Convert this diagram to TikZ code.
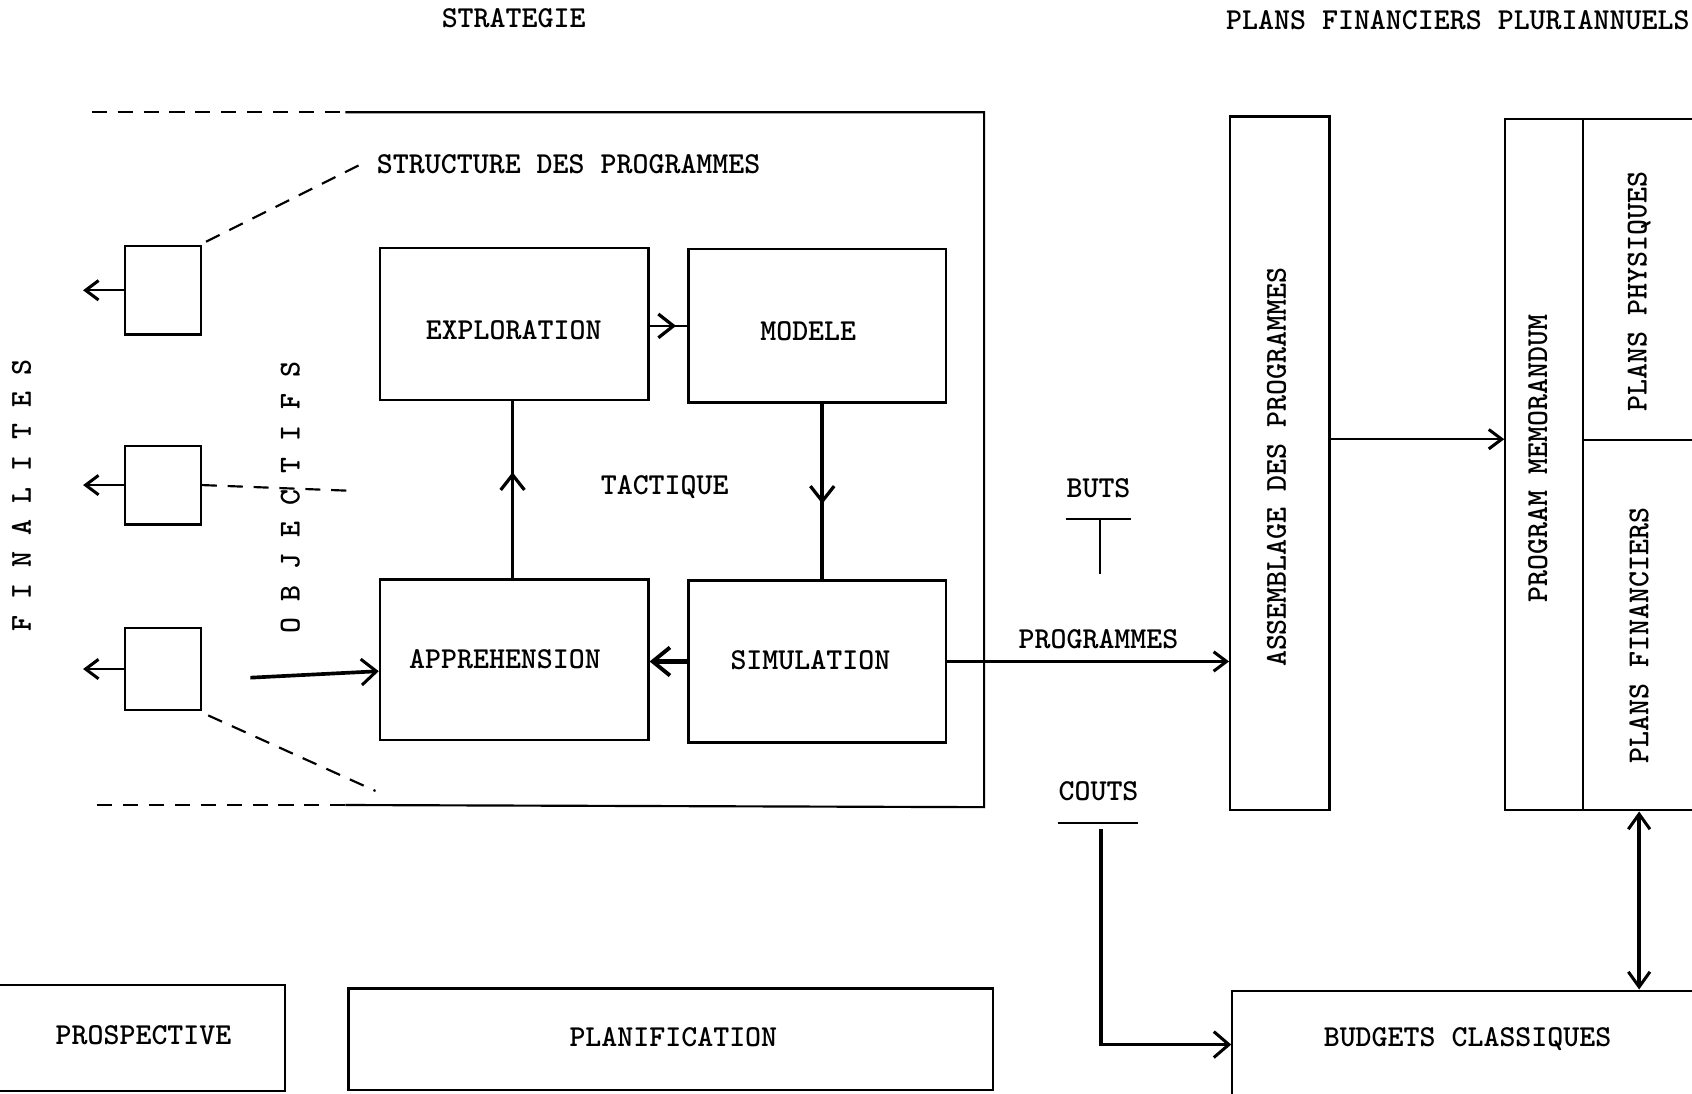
\documentclass[tikz,border=0pt]{standalone}
\usepackage{fontspec}
\usetikzlibrary{arrows.meta,decorations.markings,calc}
\begin{document}
\begin{tikzpicture}[x=0.5pt,y=-0.5pt,
  font=\ttfamily\bfseries\fontsize{14.1}{16}\selectfont,
  blk/.style={draw,line width=1pt,inner sep=0pt},
  lbl/.style={inner sep=1pt},
  tip/.style={-{Straight Barb[length=6pt,width=9pt,line width=1.4pt]}},
  midarr/.style={postaction={decorate},decoration={markings,
      mark=at position #1 with {\arrow{Straight Barb[length=7pt,width=11pt,line width=1.5pt]}}}},
  ln/.style={line width=1pt},
  thk/.style={line width=1.7pt},
  dsh/.style={line width=1pt,dash pattern=on 7pt off 5pt}
]
\useasboundingbox (0,0) rectangle (1568,1013);
\clip (0,0) rectangle (1568,1013);

% headers
\node[lbl] (strat) at (476,17) {STRATEGIE};
\node[lbl] (pfp) at (1351,19) {PLANS FINANCIERS PLURIANNUELS};

% strategy frame
\draw[dsh] (85,104) -- (320,104);
\draw[ln] (320,104) -- (912,104) -- (912,748) -- (320,746);
\draw[dsh] (320,746) -- (85,746);

\node[lbl] (sdp) at (527,152) {STRUCTURE DES PROGRAMMES};
\node[lbl,rotate=90] (fin) at (20,459) {F I N A L I T E S};
\node[lbl,rotate=90] (obj) at (269,461) {O B J E C T I F S};

% small boxes
\node[blk,minimum width=35pt,minimum height=41pt] (b1) at (151,269) {};
\node[blk,minimum width=35pt,minimum height=36.5pt] (b2) at (151,449.5) {};
\node[blk,minimum width=35pt,minimum height=38pt] (b3) at (151,620) {};
\draw[ln,tip] (b1.west) -- ++(-38,0);
\draw[ln,tip] (b2.west) -- ++(-38,0);
\draw[ln,tip] (b3.west) -- ++(-38,0);
\coordinate (d1) at (335,152);
\coordinate (d2) at (330,455);
\coordinate (d3) at (348,733);
\draw[dsh] ($(b1.north east)+(4,-3)$) -- (d1);
\draw[dsh] (b2.east) -- (d2);
\draw[dsh] ($(b3.south east)+(6,4)$) -- (d3);

% main boxes
\node[blk,minimum width=124.5pt,minimum height=70.5pt] (expl) at (476.5,300.5) {};
\node[lbl] at (476,306) {EXPLORATION};
\node[blk,minimum width=119.5pt,minimum height=71pt] (model) at (757.5,302) {};
\node[lbl] at (749,307) {MODELE};
\node[blk,minimum width=124.5pt,minimum height=74.5pt] (appr) at (476.5,611.5) {};
\node[lbl] at (468,611) {APPREHENSION};
\node[blk,minimum width=119.5pt,minimum height=75pt] (simu) at (757.5,613) {};
\node[lbl] at (751,612) {SIMULATION};
\node[lbl] (tact) at (616,451) {TACTIQUE};

\draw[ln,midarr=0.7] (expl.east |- model.west) -- (model.west);
\draw[thk,midarr=0.57] ($(model.south)+(4.5,0)$) -- ($(simu.north)+(4.5,0)$);
\draw[ln,midarr=0.6] ($(appr.north)+(-1.5,0)$) -- ($(expl.south)+(-1.5,0)$);
\draw[line width=2.2pt,-{Straight Barb[length=8pt,width=13pt,line width=1.8pt]}] (simu.west) -- (simu.west -| appr.east);

\coordinate (ain) at (232,628);
\draw[thk,-{Straight Barb[length=7pt,width=12pt,line width=1.4pt]}] (ain) -- ($(appr.west)+(0,10.5)$);

% right part
\node[blk,minimum width=46pt,minimum height=321.5pt] (assem) at (1186,429.5) {};
\node[lbl,rotate=90] at (1183,433) {ASSEMBLAGE DES PROGRAMMES};

\draw[ln,tip] (simu.east) -- (simu.east -| assem.west);
\node[lbl] (prog) at (1018,592) {PROGRAMMES};

\node[lbl] (buts) at (1018,452) {BUTS};
\draw[ln] ($(buts)+(-30,29)$) -- ($(buts)+(30,29)$);
\draw[ln] ($(buts)+(1,29)$) -- ($(buts)+(1,80)$);

\node[lbl] (couts) at (1018,733) {COUTS};
\draw[ln] ($(couts)+(-38,30)$) -- ($(couts)+(37,30)$);

\node[blk,minimum width=36pt,minimum height=320.5pt] (memo) at (1431,430.5) {};
\node[lbl,rotate=90] at (1425,425) {PROGRAM MEMORANDUM};
\node[blk,minimum width=76.5pt,minimum height=149pt] (phys) at (1543.5,259) {};
\node[lbl,rotate=90] at (1519,270) {PLANS PHYSIQUES};
\node[blk,minimum width=76.5pt,minimum height=171.5pt] (finan) at (1543.5,579.5) {};
\node[lbl,rotate=90] at (1519,589) {PLANS FINANCIERS};

\coordinate (aout) at ($(assem.east)+(0,-22.5)$);
\draw[ln,tip] (aout) -- (aout -| memo.west);

% bottom boxes
\node[blk,minimum width=157pt,minimum height=49pt] (prosp) at (107,962) {};
\node[lbl] at (133,959) {PROSPECTIVE};
\node[blk,minimum width=298.5pt,minimum height=47pt] (plan) at (621.5,963) {};
\node[lbl] at (624,961) {PLANIFICATION};
\node[blk,minimum width=239pt,minimum height=71pt] (budg) at (1381,989) {};
\node[lbl] at (1360,963) {BUDGETS CLASSIQUES};

\coordinate (cst) at ($(couts)+(2,35)$);
\coordinate (bin) at ($(budg.west)+(0,-21)$);
\draw[thk,-{Straight Barb[length=7pt,width=12pt,line width=1.4pt]}] (cst) |- (bin);

\coordinate (dtop) at ($(finan.south west)+(53,0)$);
\draw[thk,{Straight Barb[length=7pt,width=10pt,line width=1.4pt]}-{Straight Barb[length=7pt,width=10pt,line width=1.4pt]}] (dtop) -- (dtop |- budg.north);
\end{tikzpicture}
\end{document}
